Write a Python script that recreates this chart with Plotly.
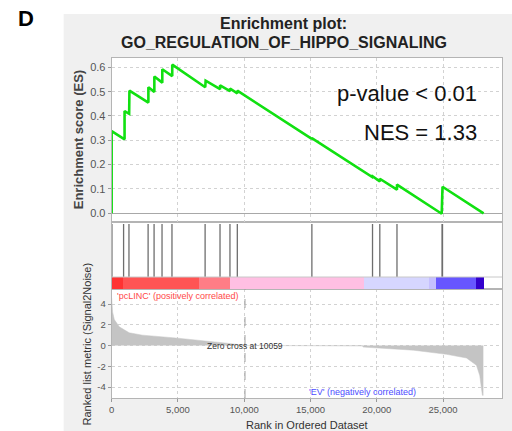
import plotly.graph_objects as go

# ---------------- data ----------------
es_rank = [0, 0, 973, 973, 1320, 1340, 2770, 2770, 3220, 3220, 3820, 3820, 4570, 4570,
           7060, 7090, 8180, 8180, 8930, 8930, 9480, 9480, 15100, 15100, 19660, 19680,
           20230, 20230, 21525, 21525, 24900, 24925, 24960, 28060]
es_value = [0.0, 0.338, 0.304, 0.42, 0.409, 0.504, 0.455, 0.518, 0.499, 0.562, 0.537, 0.592,
            0.564, 0.611, 0.518, 0.545, 0.51, 0.526, 0.502, 0.513, 0.493, 0.504, 0.306,
            0.309, 0.149, 0.152, 0.131, 0.142, 0.097, 0.118, -0.002, 0.05, 0.109, 0.0]

hit_rank = [20, 900, 1305, 2750, 3200, 3800, 4550, 7050, 8175, 8925, 9480, 15105,
            19680, 20230, 21525, 24930, 24960]

metric_rank = [0, 20, 75, 200, 575, 1325, 2320, 4815, 6810, 7200, 8500, 9500, 10059,
               15000, 18900, 18990, 22780, 25270, 26770, 27520, 27770, 27970, 28040]
metric_value = [4.6, 4.0, 3.2, 2.5, 1.8, 1.23, 1.0, 0.73, 0.5, 0.42, 0.25, 0.1, 0.0,
                -0.02, -0.04, -0.15, -0.45, -0.85, -1.2, -1.9, -2.9, -4.8, -4.8]

band_start = [0, 823, 6590, 8900, 19030, 23950, 24430, 27430]
band_end = [823, 6590, 8900, 19030, 23950, 24430, 27430, 28050]
band_color = ["#ff3333", "#ff5454", "#ff7d86", "#ffbfe3", "#d6d6ff", "#c6c0ff",
              "#6756ff", "#3300cc"]

x_tickvals = [0, 5000, 10000, 15000, 20000, 25000]
x_ticktext = ["0", "5,000", "10,000", "15,000", "20,000", "25,000"]
es_tickvals = [0.0, 0.1, 0.2, 0.3, 0.4, 0.5, 0.6]
es_ticktext = ["0.0", "0.1", "0.2", "0.3", "0.4", "0.5", "0.6"]
metric_tickvals = [-4, -2, 0, 2, 4]
metric_ticktext = ["-4", "-2", "0", "2", "4"]

zero_cross = 10059
title_1 = "Enrichment plot:"
title_2 = "GO_REGULATION_OF_HIPPO_SIGNALING"
p_text = "p-value < 0.01"
nes_text = "NES = 1.33"
pos_label = "'pcLINC' (positively correlated)"
neg_label = "'EV' (negatively correlated)"
zero_label = "Zero cross at 10059"

# ---------------- layout helpers ----------------
W, H = 512, 431
FONT = "Liberation Sans"


def px(x):
    return x / W


def py(y):
    return 1 - y / H


X0, X1 = 109.3, 502.0
XRANGE = [0, (X1 - X0) * 75.0]
xdom = [px(X0), px(X1)]
top_dom = [py(222), py(58)]
mid_dom = [py(289), py(222)]
bot_dom = [py(398), py(289)]

fig = go.Figure()

# ES curve (top)
fig.add_trace(go.Scatter(x=es_rank, y=es_value, mode="lines",
                         line=dict(color="#11e011", width=2.6),
                         xaxis="x3", yaxis="y3", hoverinfo="skip"))

# color band (middle)
fig.add_trace(go.Bar(x=[(s + e) / 2 for s, e in zip(band_start, band_end)],
                     width=[e - s for s, e in zip(band_start, band_end)],
                     y=[12] * len(band_start), base=0,
                     marker=dict(color=band_color, line=dict(width=0)),
                     xaxis="x2", yaxis="y2", hoverinfo="skip"))

# hit lines (middle)
hx, hy = [], []
for r in hit_rank:
    hx += [r, r, None]
    hy += [12, 65, None]
fig.add_trace(go.Scatter(x=hx, y=hy, mode="lines",
                         line=dict(color="#6e6e6e", width=1.3),
                         xaxis="x2", yaxis="y2", hoverinfo="skip"))

# ranked list metric (bottom)
fig.add_trace(go.Scatter(x=metric_rank, y=metric_value, mode="lines",
                         line=dict(color="#c4c4c4", width=0.5),
                         fill="tozeroy", fillcolor="#c4c4c4",
                         xaxis="x", yaxis="y", hoverinfo="skip"))

grid = dict(showgrid=True, gridcolor="#d2d2d2", griddash="dot", gridwidth=1)
border = dict(showline=True, mirror=True, linecolor="#b4b4b4", linewidth=1)
tickf = dict(family=FONT, size=9.5, color="#555")

fig.update_layout(
    width=W, height=H, margin=dict(l=0, r=0, t=0, b=0),
    paper_bgcolor="white", plot_bgcolor="white", showlegend=False,
    bargap=0,
    xaxis=dict(domain=xdom, range=XRANGE, anchor="y", tickvals=x_tickvals,
               ticktext=x_ticktext, ticks="outside", ticklen=3, tickcolor="#999",
               tickfont=tickf, zeroline=False, **grid, **border),
    yaxis=dict(domain=bot_dom, range=[-5.06, 5.45], anchor="x", tickvals=metric_tickvals,
               ticktext=metric_ticktext, ticks="outside", ticklen=3, tickcolor="#999",
               tickfont=tickf, zeroline=False, **grid, **border),
    xaxis2=dict(domain=xdom, range=XRANGE, anchor="y2", showticklabels=False,
                showgrid=False, zeroline=False, ticks="", **border),
    yaxis2=dict(domain=mid_dom, range=[0, 67], anchor="x2", showticklabels=False,
                showgrid=False, zeroline=False, ticks="", **border),
    xaxis3=dict(domain=xdom, range=XRANGE, anchor="y3", showticklabels=False,
                ticks="", zeroline=False, tickvals=x_tickvals, **grid, **border),
    yaxis3=dict(domain=top_dom, range=[-0.0358, 0.6383], anchor="x3",
                tickvals=es_tickvals, ticktext=es_ticktext, ticks="outside", ticklen=3,
                tickcolor="#999", tickfont=dict(family=FONT, size=11, color="#555"),
                zeroline=True, zerolinecolor="#a8a8a8", zerolinewidth=1,
                **grid, **border),
)

shapes = [
    dict(type="rect", xref="paper", yref="paper", x0=px(61), x1=1, y0=0, y1=py(14),
         fillcolor="#f0f0f0", line=dict(width=0), layer="below"),
    dict(type="rect", xref="paper", yref="paper", x0=xdom[0], x1=xdom[1],
         y0=py(398), y1=py(58), fillcolor="white", line=dict(width=0), layer="below"),
    dict(type="line", xref="x2 domain", yref="y2", x0=0, x1=1, y0=12, y1=12,
         line=dict(color="#c8c8c8", width=1)),
    dict(type="line", xref="x", yref="y domain", x0=zero_cross, x1=zero_cross, y0=0, y1=1,
         line=dict(color="#a0a0a0", width=1, dash="dash")),
]
fig.update_layout(shapes=shapes)

ann = [
    dict(text="<b>D</b>", x=px(23), y=py(18), font=dict(family=FONT, size=22, color="#000")),
    dict(text="<b>" + title_1 + "</b>", x=px(282), y=py(23),
         font=dict(family=FONT, size=16, color="#222")),
    dict(text="<b>" + title_2 + "</b>", x=px(283), y=py(42),
         font=dict(family=FONT, size=16, color="#222")),
    dict(text=p_text, x=px(479), y=py(93), xanchor="right",
         font=dict(family=FONT, size=22, color="#111")),
    dict(text=nes_text, x=px(479), y=py(132), xanchor="right",
         font=dict(family=FONT, size=22, color="#111")),
    dict(text=pos_label, x=px(113), y=py(296), xanchor="left",
         font=dict(family=FONT, size=9, color="#ff4848")),
    dict(text=neg_label, x=px(306), y=py(392), xanchor="left",
         font=dict(family=FONT, size=9, color="#4d4dff")),
    dict(text="<b>Enrichment score (ES)</b>", x=px(76.7), y=py(140), textangle=-90,
         font=dict(family=FONT, size=13, color="#444")),
    dict(text="Ranked list metric (Signal2Noise)", x=px(84), y=py(344), textangle=-90,
         font=dict(family=FONT, size=11, color="#333")),
    dict(text="Rank in Ordered Dataset", x=px(305.5), y=py(425),
         font=dict(family=FONT, size=11, color="#333")),
]
for a in ann:
    a.setdefault("xref", "paper")
    a.setdefault("yref", "paper")
    a.setdefault("xanchor", "center")
    a["yanchor"] = "middle"
    a["showarrow"] = False
fig.update_layout(annotations=ann)
fig.add_annotation(text=zero_label, x=zero_cross, y=0, xref="x", yref="y",
                   xanchor="center", yanchor="middle", showarrow=False,
                   font=dict(family=FONT, size=8.5, color="#333"))

fig.write_html("out.html", config={"displayModeBar": False},
               post_script="document.body.style.margin='0px';document.body.style.overflow='hidden';")
